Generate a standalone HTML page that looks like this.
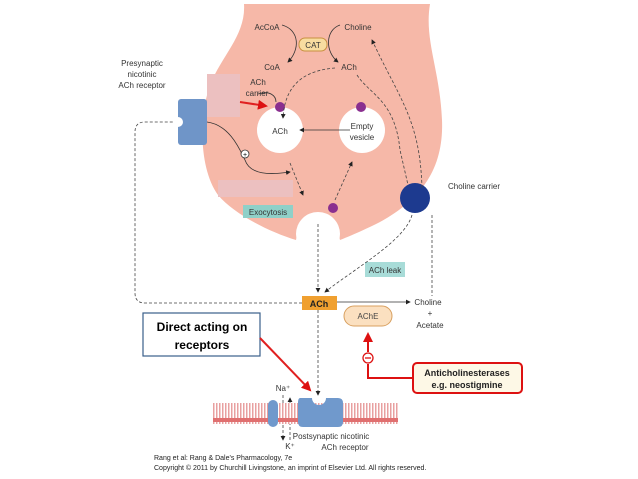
<html><body style="margin:0;background:#fff">
<svg width="638" height="479" viewBox="0 0 638 479" xmlns="http://www.w3.org/2000/svg" font-family="Liberation Sans, sans-serif">
<defs>
<marker id="a" markerWidth="6" markerHeight="6" refX="5" refY="3" orient="auto"><path d="M0,0L6,3L0,6z" fill="#222"/></marker>
<marker id="r" markerWidth="5" markerHeight="5" refX="4" refY="2.5" orient="auto"><path d="M0,0L5,2.5L0,5z" fill="#d11"/></marker>
<pattern id="h" width="3" height="21" patternUnits="userSpaceOnUse"><rect width="3" height="21" fill="#fff"/><rect width="1.5" height="21" fill="#e8a0a0"/><rect y="0" width="3" height="2" fill="#e07070"/><rect y="19" width="3" height="2" fill="#e07070"/></pattern>
</defs>
<path d="M244,4 L430,4 C424,40 440,70 442,120 C444,170 420,200 380,222 C360,232 345,238 340,240 C336,218 300,218 296,240 C270,232 235,215 218,195 C200,170 198,120 210,85 C222,55 246,35 244,4Z" fill="#f6b8a8"/>
<circle cx="318" cy="234" r="22" fill="#fff"/>
<rect x="307" y="234" width="22" height="20" fill="#fff"/>
<rect x="207" y="74" width="33" height="43" fill="#ecc0c0"/>
<rect x="218" y="180" width="75" height="17" fill="#ecc0c0"/>
<circle cx="280" cy="130" r="23" fill="#fff"/>
<circle cx="362" cy="130" r="23" fill="#fff"/>
<circle cx="280" cy="107" r="5" fill="#8a2f8f"/>
<circle cx="361" cy="107" r="5" fill="#8a2f8f"/>
<circle cx="333" cy="208" r="5" fill="#8a2f8f"/>
<circle cx="415" cy="198" r="15" fill="#1d3a8f"/>
<g font-size="8" fill="#333" text-anchor="middle">
<text x="267" y="30">AcCoA</text><text x="358" y="30">Choline</text>
<text x="272" y="70">CoA</text><text x="349" y="70">ACh</text>
<text x="258" y="85">ACh</text><text x="257" y="96">carrier</text>
<text x="280" y="134">ACh</text>
<text x="362" y="129">Empty</text><text x="362" y="140">vesicle</text>
<text x="142" y="66">Presynaptic</text><text x="142" y="77">nicotinic</text><text x="142" y="88">ACh receptor</text>
<text x="474" y="189">Choline carrier</text>
<text x="428" y="305">Choline</text><text x="430" y="316">+</text><text x="430" y="328">Acetate</text>
<text x="331" y="439">Postsynaptic nicotinic</text><text x="345" y="450">ACh receptor</text>
<text x="283" y="391">Na⁺</text><text x="290" y="449">K⁺</text>
</g>
<rect x="299" y="38" width="28" height="13" rx="6" fill="#f8dca0" stroke="#c89040"/>
<text x="313" y="48" font-size="8" text-anchor="middle" fill="#333">CAT</text>
<rect x="243" y="205" width="50" height="13" fill="#8fd0c8"/><text x="268" y="215" font-size="8" text-anchor="middle" fill="#333">Exocytosis</text>
<rect x="365" y="262" width="40" height="15" fill="#a8dcd8"/><text x="385" y="273" font-size="8" text-anchor="middle" fill="#333">ACh leak</text>
<rect x="302" y="296" width="35" height="14" fill="#f0a030"/><text x="319" y="307" font-size="9" font-weight="bold" text-anchor="middle" fill="#222">ACh</text>
<rect x="344" y="306" width="48" height="20" rx="10" fill="#fbe0c0" stroke="#d8a060"/><text x="368" y="319" font-size="8" text-anchor="middle" fill="#444">AChE</text>
<g fill="none" stroke="#333" stroke-width="0.8">
<path d="M282,25 C300,30 300,50 288,62" marker-end="url(#a)"/>
<path d="M340,25 C325,30 325,52 338,62" marker-end="url(#a)"/>
<path d="M258,94 C270,90 276,96 276,102"/>
<path d="M350,130 L300,130" marker-end="url(#a)"/>
<path d="M207,122 C230,125 240,150 245,160 C250,175 270,175 290,172" marker-end="url(#a)"/>
<path d="M337,302 L410,302" marker-end="url(#a)"/>
</g>
<g fill="none" stroke="#444" stroke-width="0.8" stroke-dasharray="3,2">
<path d="M335,68 C310,70 285,80 283,118" marker-end="url(#a)"/>
<path d="M290,163 L303,195" marker-end="url(#a)"/>
<path d="M335,200 L352,162" marker-end="url(#a)"/>
<path d="M357,75 C370,95 395,100 400,150 L408,185"/>
<path d="M422,188 C420,120 400,100 372,40" marker-end="url(#a)"/>
<path d="M318,224 L318,292" marker-end="url(#a)"/>
<path d="M412,215 C405,240 360,265 325,292" marker-end="url(#a)"/>
<path d="M432,215 L432,296"/>
<path d="M302,303 L145,303 Q135,303 135,293 L135,132 Q135,122 145,122 L180,122" marker-end="url(#a)"/>
<path d="M318,310 L318,395" marker-end="url(#a)"/>
<path d="M283,395 L283,440" marker-end="url(#a)"/>
<path d="M290,440 L290,398" marker-end="url(#a)"/>
</g>
<circle cx="245" cy="154" r="4" fill="#fff" stroke="#333" stroke-width="0.8"/><text x="245" y="157" font-size="7" text-anchor="middle">+</text>
<rect x="178" y="99" width="29" height="46" rx="3" fill="#6f95c8"/>
<circle cx="178" cy="122" r="5" fill="#fff"/>
<path d="M240,102 L266,106" stroke="#e02020" stroke-width="2" marker-end="url(#r)"/>
<rect x="213" y="403" width="185" height="21" fill="url(#h)"/>
<rect x="268" y="400" width="10" height="27" rx="5" fill="#7099cc"/>
<path d="M300,398 L312,398 A7,7 0 0 0 326,398 L338,398 Q343,398 343,403 L343,422 Q343,427 338,427 L303,427 Q298,427 298,422 L298,403 Q298,398 300,398Z" fill="#7099cc"/>
<rect x="143" y="313" width="117" height="43" fill="#fff" stroke="#3a5f8a" stroke-width="1.2"/>
<text x="202" y="331" font-size="12" font-weight="bold" text-anchor="middle" fill="#000">Direct acting on</text>
<text x="202" y="349" font-size="12" font-weight="bold" text-anchor="middle" fill="#000">receptors</text>
<path d="M260,338 L310,390" stroke="#e02020" stroke-width="2" marker-end="url(#r)"/>
<path d="M368,364 L368,378 L413,378 M368,352 L368,334" stroke="#d11" stroke-width="2" fill="none" marker-end="url(#r)"/>
<circle cx="368" cy="358" r="5" fill="#fff" stroke="#d11" stroke-width="1.3"/><line x1="365" y1="358" x2="371" y2="358" stroke="#d11" stroke-width="1.3"/>
<rect x="413" y="363" width="109" height="30" rx="4" fill="#fdf8e6" stroke="#d11" stroke-width="2"/>
<text x="467" y="376" font-size="9" font-weight="bold" text-anchor="middle" fill="#222">Anticholinesterases</text>
<text x="467" y="388" font-size="9" font-weight="bold" text-anchor="middle" fill="#222">e.g. neostigmine</text>
<text x="154" y="460" font-size="7" fill="#222">Rang et al: Rang &amp; Dale's Pharmacology, 7e</text>
<text x="154" y="470" font-size="7" fill="#222">Copyright © 2011 by Churchill Livingstone, an imprint of Elsevier Ltd. All rights reserved.</text>
</svg>
</body></html>
